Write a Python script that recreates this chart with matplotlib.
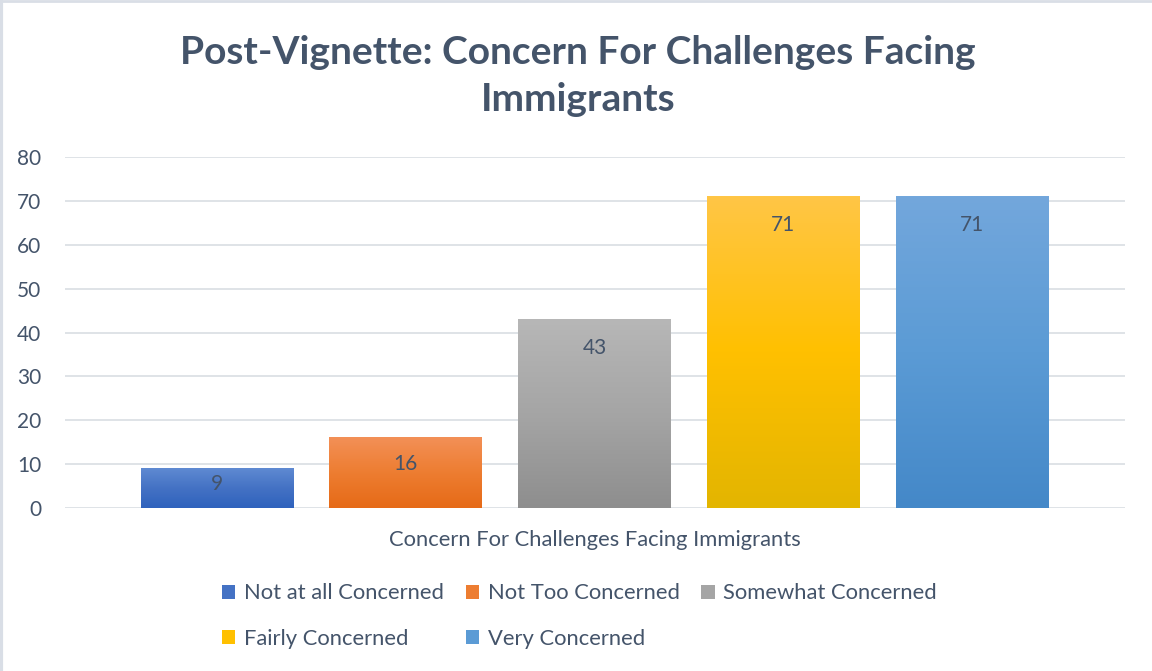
import numpy as np
import matplotlib
matplotlib.use("Agg")
import matplotlib.pyplot as plt
from matplotlib.colors import LinearSegmentedColormap
from matplotlib.patches import Patch

plt.rcParams['font.family'] = ['Lato', 'DejaVu Sans']

# Survey responses (counts)
categories = ["Not at all Concerned", "Not Too Concerned", "Somewhat Concerned",
              "Fairly Concerned", "Very Concerned"]
counts = [9, 16, 43, 71, 71]

# Gradient stops per bar: top, middle, bottom
grad_top = ["#5F8AD2", "#F39057", "#B7B7B7", "#FFC646", "#73A7DC"]
grad_mid = ["#4472C4", "#ED7D31", "#A5A5A5", "#FFC000", "#5B9BD5"]
grad_bot = ["#2F62BD", "#E66A17", "#8E8E8E", "#E3B500", "#4488C8"]

text_col = "#44546A"
grid_col = "#DCE0E5"

fig = plt.figure(figsize=(11.52, 6.71), dpi=100)
ax = fig.add_axes([0.0564, 0.2429, 0.9202, 0.5231])

x = np.arange(len(categories))
bars = ax.bar(x, counts, width=0.81, color="none", zorder=3)

# paint each bar with a vertical gradient
for b, t, m, bt in zip(bars, grad_top, grad_mid, grad_bot):
    cmap = LinearSegmentedColormap.from_list("g", [bt, m, t])
    grad = np.linspace(0, 1, 256).reshape(-1, 1)
    x0, w, h = b.get_x(), b.get_width(), b.get_height()
    ax.imshow(grad, cmap=cmap, origin="lower", aspect="auto",
              extent=[x0, x0 + w, 0, h], zorder=2)

# value labels just inside the top of the bar
for xi, v in zip(x, counts):
    ax.text(xi, max(v - 6.6, v * 0.62), str(v), ha="center", va="center",
            fontsize=15, color=text_col, zorder=4)

ax.set_xlim(-0.806, 4.81)
ax.set_ylim(0, 80)
ax.set_yticks(range(0, 81, 10))
ax.set_xticks([])
ax.yaxis.grid(True, color=grid_col, linewidth=1.3)
ax.set_axisbelow(True)
for s in ax.spines.values():
    s.set_visible(False)
ax.tick_params(axis="y", length=0, pad=17, labelsize=15, labelcolor=text_col)

ax.set_xlabel("Concern For Challenges Facing Immigrants", fontsize=15.8,
              color=text_col, labelpad=16)

fig.text(0.502, 0.887, "Post-Vignette: Concern For Challenges Facing\nImmigrants",
         ha="center", va="center", fontsize=28, fontweight="bold",
         color=text_col, linespacing=1.42)

# legend: three entries on the first row, two on the second
handles = [Patch(facecolor=c) for c in grad_mid]
order = [0, 3, 1, 4, 2]
leg = fig.legend([handles[i] for i in order], [categories[i] for i in order],
                 ncol=3, loc="center", bbox_to_anchor=(0.503, 0.082),
                 frameon=False, fontsize=15.8, handlelength=0.6, handleheight=0.6,
                 handletextpad=0.4, columnspacing=1.0, labelspacing=1.15)
for t in leg.get_texts():
    t.set_color(text_col)

# light frame along the top and left edges
fig.add_artist(plt.Line2D([0.001, 0.001], [0, 1], color="#D9DEE6", linewidth=3,
                          transform=fig.transFigure))
fig.add_artist(plt.Line2D([0, 1], [0.999, 0.999], color="#D9DEE6", linewidth=2,
                          transform=fig.transFigure))

fig.savefig("out.png", dpi=100)
